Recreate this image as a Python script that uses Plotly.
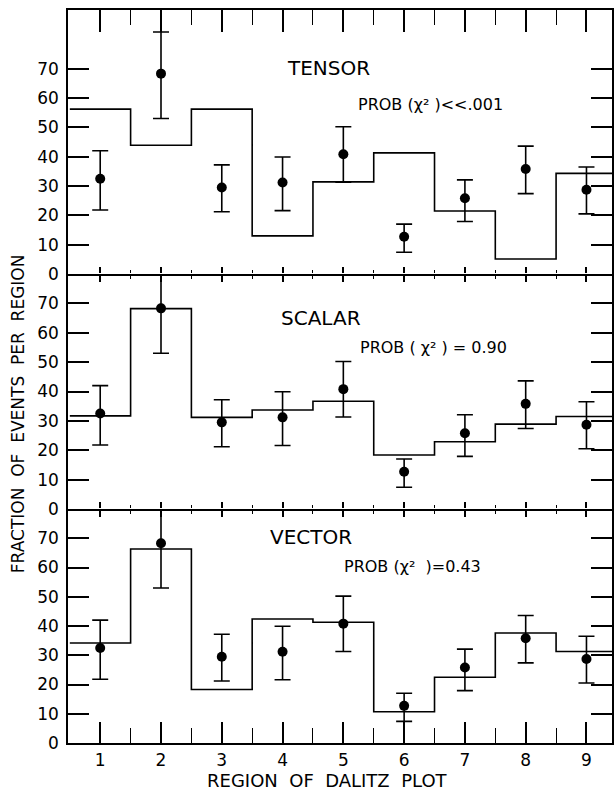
import plotly.graph_objects as go

# ---------------- data ----------------
regions = [1, 2, 3, 4, 5, 6, 7, 8, 9]
x_tick_labels = ["1", "2", "3", "4", "5", "6", "7", "8", "9"]
y_tick_vals = [0, 10, 20, 30, 40, 50, 60, 70]

# measured fraction of events per region (points) with error-bar limits
measured = [32.5, 68.3, 29.5, 31.2, 40.8, 12.7, 25.8, 35.8, 28.7]
meas_hi = [42.0, 82.5, 37.2, 39.9, 50.2, 17.0, 32.1, 43.6, 36.5]
meas_lo = [21.8, 53.0, 21.2, 21.6, 31.3, 7.4, 17.9, 27.4, 20.5]

# fitted predictions (histograms)
tensor_fit = [56.2, 43.9, 56.2, 13.0, 31.4, 41.3, 21.5, 5.1, 34.3]
scalar_fit = [31.7, 68.2, 31.2, 33.7, 36.7, 18.4, 22.9, 28.9, 31.5]
vector_fit = [34.2, 66.3, 18.3, 42.4, 41.3, 10.7, 22.5, 37.6, 31.3]

panel_names = ["TENSOR", "SCALAR", "VECTOR"]
prob_texts = ["PROB (\u03c7\u00b2 )<<.001", "PROB ( \u03c7\u00b2 ) = 0.90", "PROB (\u03c7\u00b2\u00a0 )=0.43"]
x_title = "REGION\u00a0 OF\u00a0 DALITZ\u00a0 PLOT"
y_title = "FRACTION\u00a0 OF\u00a0 EVENTS\u00a0 PER\u00a0 REGION"

# ---------------- layout geometry ----------------
W, H = 615, 791
ML, MR, MT, MB = 68, 1, 10, 48
PW, PH = W - ML - MR, H - MT - MB
FONT = "DejaVu Sans"
BLACK = "black"

def px_x(px):
    return (px - ML) / PW

def px_y(py):
    return (H - MB - py) / PH

edges = [r - 0.5 for r in regions] + [regions[-1] + 0.5]
half_ticks = [r + 0.5 for r in regions[:-1]]
xrange_ = [0.47, 9.42]

fits = [tensor_fit, scalar_fit, vector_fit]
ynames = ["y", "y2", "y3"]
xnames = ["x", "x2", "x3"]

fig = go.Figure()
for i in range(3):
    fit = fits[i]
    fig.add_trace(go.Scatter(
        x=edges, y=fit + [fit[-1]], mode="lines", line_shape="hv",
        line=dict(color=BLACK, width=1.6), xaxis=xnames[i], yaxis=ynames[i],
        showlegend=False, hoverinfo="skip"))
    fig.add_trace(go.Scatter(
        x=regions, y=measured, mode="markers",
        marker=dict(color=BLACK, size=10),
        error_y=dict(type="data", symmetric=False,
                     array=[h - v for h, v in zip(meas_hi, measured)],
                     arrayminus=[v - l for l, v in zip(meas_lo, measured)],
                     color=BLACK, thickness=1.6, width=8),
        cliponaxis=False, xaxis=xnames[i], yaxis=ynames[i],
        showlegend=False, hoverinfo="skip"))

# dummy traces so that the extra (top-side) x axes get their subplots
for xa, ya in [("x4", "y"), ("x5", "y2"), ("x6", "y3")]:
    fig.add_trace(go.Scatter(x=[], y=[], xaxis=xa, yaxis=ya,
                             showlegend=False, hoverinfo="skip"))

d_bot = 234 / PH
d_mid = (234 + 235) / PH
ydomains = [[d_mid, 1.0], [d_bot, d_mid], [0.0, d_bot]]
yranges = [[0, 90], [0, 80], [0, 80]]

def xaxis_cfg(anchor, side, ticks, majlen, minlen, labels=False, line=True):
    return dict(
        domain=[0, 1], range=xrange_, anchor=anchor, side=side,
        showline=line, linecolor=BLACK, linewidth=1.6,
        tickmode="array", tickvals=regions, ticktext=x_tick_labels,
        ticks=ticks, ticklen=majlen, tickwidth=1.6, tickcolor=BLACK,
        minor=dict(tickmode="array", tickvals=half_ticks, ticks=ticks,
                   ticklen=minlen, tickwidth=1.4, tickcolor=BLACK, showgrid=False),
        showticklabels=labels, showgrid=False, zeroline=False,
        tickfont=dict(family=FONT, size=17, color=BLACK),
        ticklabelstandoff=1, fixedrange=True)

layout = dict(
    width=W, height=H, margin=dict(l=ML, r=MR, t=MT, b=MB),
    paper_bgcolor="white", plot_bgcolor="rgba(0,0,0,0)",
    font=dict(family=FONT, color=BLACK),
    xaxis=xaxis_cfg("y", "bottom", "outside", 6, 3),
    xaxis2=xaxis_cfg("y2", "bottom", "outside", 6, 3),
    xaxis3=xaxis_cfg("y3", "bottom", "inside", 21, 15, labels=True),
    xaxis4=xaxis_cfg("y", "top", "inside", 22, 15),
    xaxis5=xaxis_cfg("y2", "top", "outside", 6, 3, line=False),
    xaxis6=xaxis_cfg("y3", "top", "outside", 6, 3, line=False),
)
for i in range(3):
    key = "yaxis" if i == 0 else "yaxis%d" % (i + 1)
    layout[key] = dict(
        domain=ydomains[i], range=yranges[i], anchor=xnames[i],
        showline=True, linecolor=BLACK, linewidth=1.6, mirror="ticks",
        tickmode="array", tickvals=y_tick_vals,
        ticks="inside", ticklen=21, tickwidth=1.6, tickcolor=BLACK,
        showgrid=False, zeroline=False,
        tickfont=dict(family=FONT, size=17, color=BLACK),
        ticklabelstandoff=4, fixedrange=True)
fig.update_layout(**layout)

# panel labels and probabilities
name_pos = [(329, 68), (322, 318), (312, 537)]
prob_pos = [(357, 104), (359, 348), (343, 566)]
for i in range(3):
    fig.add_annotation(text=panel_names[i], xref="paper", yref="paper",
                       x=px_x(name_pos[i][0]), y=px_y(name_pos[i][1]),
                       xanchor="center", yanchor="middle", showarrow=False,
                       font=dict(family=FONT, size=20, color=BLACK))
    fig.add_annotation(text=prob_texts[i], xref="paper", yref="paper",
                       x=px_x(prob_pos[i][0]), y=px_y(prob_pos[i][1]),
                       xanchor="left", yanchor="middle", showarrow=False,
                       font=dict(family=FONT, size=16, color=BLACK))

fig.add_annotation(text=x_title, xref="paper", yref="paper",
                   x=px_x(328), y=px_y(780), xanchor="center", yanchor="middle",
                   showarrow=False, font=dict(family=FONT, size=18, color=BLACK))
fig.add_annotation(text=y_title, xref="paper", yref="paper",
                   x=px_x(18), y=px_y(414), xanchor="center", yanchor="middle",
                   textangle=-90, showarrow=False,
                   font=dict(family=FONT, size=17, color=BLACK))

fig.write_html(
    "out.html",
    config={"displayModeBar": False},
    post_script="document.body.style.margin='0';document.body.style.overflow='hidden';",
)
